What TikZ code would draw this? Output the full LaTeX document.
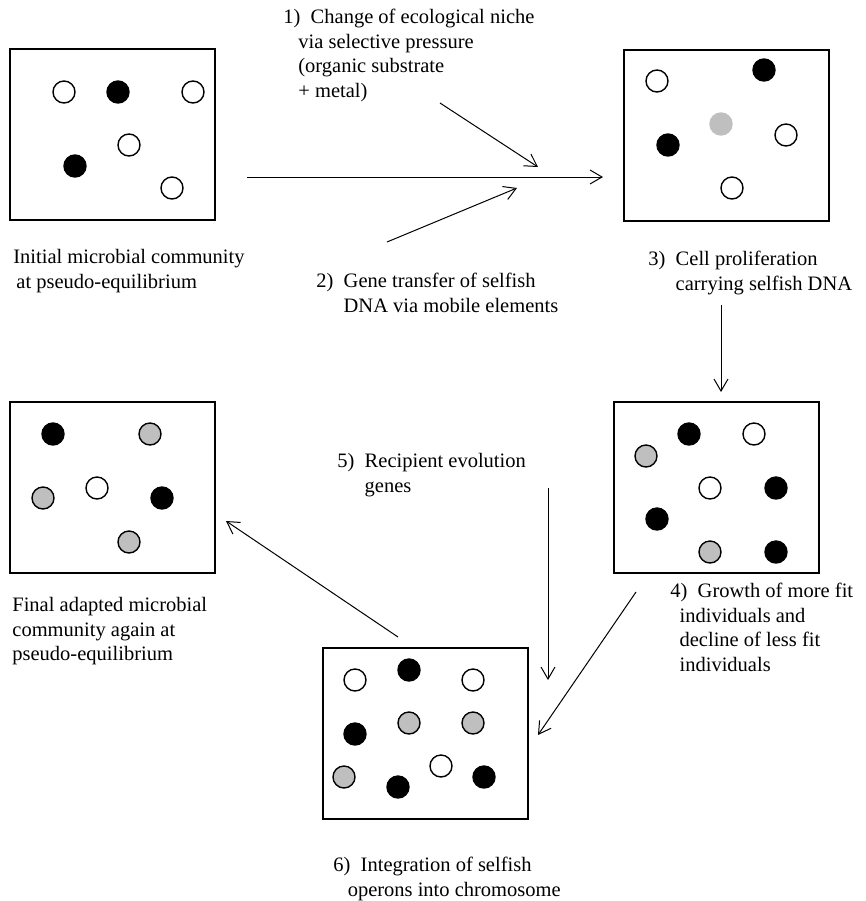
\documentclass[tikz,border=0pt]{standalone}
\usepackage{fontspec}
\setmainfont{Liberation Serif}
\usetikzlibrary{arrows.meta}
\definecolor{cellgray}{gray}{0.75}

\begin{document}
\begin{tikzpicture}[x=0.5pt, y=-0.5pt,
    colony/.style={draw, line width=1pt, minimum width=102.5pt, minimum height=85.5pt, inner sep=0pt},
    cell/.style={circle, draw, line width=0.7pt, minimum size=11pt, inner sep=0pt},
    note/.style={anchor=north west, align=left, inner sep=0pt, font=\fontsize{10.25}{12.25}\selectfont},
    link/.style={-{Straight Barb[length=6pt,width=7pt]}, line width=0.5pt}]
        \useasboundingbox (0,0) rectangle (866,901);

        % Communities
        \node[colony] (initial) at (112.5,134.5) {};
        \node[colony] (prolif) at (726.5,135) {};
        \node[colony] (growth) at (716,487.5) {};
        \node[colony] (adapted) at (112.5,487.5) {};
        \node[colony] (integr) at (425.5,733.5) {};

        % Cells
        \foreach \x/\y/\f [count=\i] in {64/92/white, 118/92/black, 193/92/white,
            129/145/white, 75/166/black, 172/188/white}
            \node[cell, fill=\f] (initial\i) at (\x,\y) {};
        \foreach \x/\y/\f [count=\i] in {657/81/white, 764/70/black, 786/135/white,
            668/145/black, 732/188/white}
            \node[cell, fill=\f] (prolif\i) at (\x,\y) {};
        \node[cell, fill=cellgray, draw=cellgray] (prolif6) at (721,124) {};
        \foreach \x/\y/\f [count=\i] in {689/434/black, 754/434/white, 646/456/cellgray,
            710/488/white, 776/488/black, 657/519/black, 710/552/cellgray, 776/552/black}
            \node[cell, fill=\f] (growth\i) at (\x,\y) {};
        \foreach \x/\y/\f [count=\i] in {53/434/black, 150/434/cellgray, 43/498/cellgray,
            97/488/white, 162/498/black, 129/542/cellgray}
            \node[cell, fill=\f] (adapted\i) at (\x,\y) {};
        \foreach \x/\y/\f [count=\i] in {355/680/white, 409/670/black, 473/680/white,
            355/734/black, 409/723/cellgray, 473/723/cellgray, 344/777/cellgray,
            398/787/black, 441/766/white, 484/777/black}
            \node[cell, fill=\f] (integr\i) at (\x,\y) {};

        % Labels
        \node[note] (initial-lbl) at (13,249) {Initial microbial community\\\hspace*{0.15em}at pseudo-equilibrium};
        \node[note] (step1) at (283,9) {1)~~Change of ecological niche\\\hspace*{0.73em}via selective pressure\\\hspace*{0.73em}(organic substrate\\\hspace*{0.73em}+ metal)};
        \node[note] (step2) at (316,273) {2)~~Gene transfer of selfish\\\hspace*{1.33em}DNA via mobile elements};
        \node[note] (step3) at (648,251) {3)~~Cell proliferation\\\hspace*{1.33em}carrying selfish DNA};
        \node[note] (step4) at (670,583) {4)~~Growth of more fit\\\hspace*{0.45em}individuals and\\\hspace*{0.45em}decline of less fit\\\hspace*{0.45em}individuals};
        \node[note] (step5) at (337,453) {5)~~Recipient evolution\\\hspace*{1.33em}genes};
        \node[note] (step6) at (333,857) {6)~~Integration of selfish\\\hspace*{0.7em}operons into chromosome};
        \node[note] (adapted-lbl) at (12,597) {Final adapted microbial\\community again at\\pseudo-equilibrium};

        % Arrow ends
        \coordinate (m1) at (247,177);
        \coordinate (m2) at (603,177);
        \coordinate (p1) at (440,103);
        \coordinate (q1) at (538,167);
        \coordinate (p2) at (387,242);
        \coordinate (q2) at (517,188);
        \coordinate (p3) at (721,305);
        \coordinate (q3) at (721,392);
        \coordinate (p4) at (636,592);
        \coordinate (q4) at (538,735);
        \coordinate (p5) at (548,488);
        \coordinate (q5) at (548,680);
        \coordinate (p6) at (398,637);
        \coordinate (q6) at (226,521);

        % Arrows
        \draw[link] (m1) -- (m2);
        \draw[link] (p1) -- (q1);
        \draw[link] (p2) -- (q2);
        \draw[link] (p3) -- (q3);
        \draw[link] (p4) -- (q4);
        \draw[link] (p5) -- (q5);
        \draw[link] (p6) -- (q6);
    \end{tikzpicture}
\end{document}
